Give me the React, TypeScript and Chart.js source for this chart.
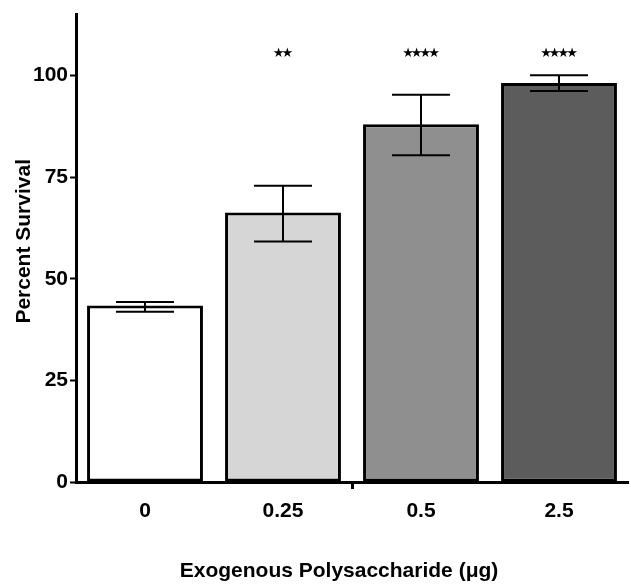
import React, { useEffect, useRef } from "react";
import { Chart, registerables } from "chart.js";

Chart.register(...registerables);

const categories = ["0", "0.25", "0.5", "2.5"];
const survival = [43.4, 66.3, 88.0, 98.2];
const errLow = [41.9, 59.2, 80.4, 96.2];
const errHigh = [44.3, 72.9, 95.3, 100.1];
const sigLabels = ["", "★★", "★★★★", "★★★★"];
const barColors = ["#ffffff", "#d6d6d6", "#8f8f8f", "#5c5c5c"];
const yTickValues = [0, 25, 50, 75, 100];
const sigLevel = 105.5;
const xTitle = "Exogenous Polysaccharide (μg)";
const yTitle = "Percent Survival";

const FONT = "'Liberation Sans', Arial, Helvetica, sans-serif";

const errorBarPlugin = {
  id: "errorBars",
  afterDatasetsDraw(chart: any) {
    const { ctx, chartArea } = chart;
    const meta = chart.getDatasetMeta(0);
    const y = chart.scales.y;
    ctx.save();
    ctx.strokeStyle = "#000";
    ctx.lineWidth = 2;
    meta.data.forEach((bar: any, i: number) => {
      const x = bar.x;
      const half = bar.width / 4;
      const yl = y.getPixelForValue(errLow[i]);
      const yh = y.getPixelForValue(errHigh[i]);
      ctx.beginPath();
      ctx.moveTo(x, yl);
      ctx.lineTo(x, yh);
      ctx.moveTo(x - half, yl);
      ctx.lineTo(x + half, yl);
      ctx.moveTo(x - half, yh);
      ctx.lineTo(x + half, yh);
      ctx.stroke();
    });
    ctx.fillStyle = "#000";
    ctx.font = "bold 13px 'DejaVu Sans', sans-serif";
    try {
      (ctx as any).letterSpacing = "-3px";
    } catch (e) {}
    ctx.textAlign = "center";
    ctx.textBaseline = "middle";
    meta.data.forEach((bar: any, i: number) => {
      if (sigLabels[i]) {
        ctx.fillText(sigLabels[i], bar.x - 1.5, y.getPixelForValue(sigLevel));
      }
    });
    try {
      (ctx as any).letterSpacing = "0px";
    } catch (e) {}
    // axis titles
    ctx.font = "bold 21px " + FONT;
    ctx.textAlign = "center";
    ctx.textBaseline = "middle";
    const cx = (chartArea.left + chartArea.right) / 2 - 13;
    ctx.fillText(xTitle, cx, chart.height - 15);
    const cy = (chartArea.top + chartArea.bottom) / 2 - 7;
    ctx.translate(24, cy);
    ctx.rotate(-Math.PI / 2);
    ctx.fillText(yTitle, 0, 0);
    ctx.restore();
  },
};

export default function App() {
  const ref = useRef<HTMLCanvasElement | null>(null);
  useEffect(() => {
    if (!ref.current) return;
    const chart = new Chart(ref.current, {
      type: "bar",
      data: {
        labels: categories,
        datasets: [
          {
            data: survival,
            backgroundColor: barColors,
            borderColor: "#000",
            borderWidth: 3,
            borderSkipped: false,
            categoryPercentage: 1,
            barPercentage: 0.84,
          },
        ],
      },
      options: {
        animation: false,
        responsive: true,
        maintainAspectRatio: false,
        layout: { padding: { top: 10, right: 3, left: 0, bottom: 0 } },
        plugins: { legend: { display: false }, tooltip: { enabled: false } },
        scales: {
          x: {
            afterFit: (s: any) => {
              s.height = 104;
            },
            border: { display: true, color: "#000", width: 3 },
            grid: {
              offset: true,
              drawOnChartArea: false,
              drawTicks: true,
              tickLength: 7,
              tickWidth: 3,
              tickColor: (c: any) => (c.index === 2 ? "#000" : "rgba(0,0,0,0)"),
            },
            ticks: {
              color: "#000",
              padding: 10,
              font: { family: FONT, size: 21, weight: "bold" },
            },
            title: { display: false },
          },
          y: {
            min: 0,
            max: 115,
            afterFit: (s: any) => {
              s.width = 76;
            },
            afterBuildTicks: (s: any) => {
              s.ticks = yTickValues.map((v) => ({ value: v }));
            },
            border: { display: true, color: "#000", width: 3 },
            grid: {
              drawOnChartArea: false,
              drawTicks: true,
              tickLength: 6,
              tickWidth: 2,
              tickColor: "#000",
            },
            ticks: {
              color: "#000",
              padding: 2,
              font: { family: FONT, size: 21, weight: "bold" },
            },
            title: { display: false },
          },
        },
      },
      plugins: [errorBarPlugin],
    });
    return () => chart.destroy();
  }, []);
  return (
    <div style={{ position: "fixed", left: 0, top: 0, width: 631, height: 586, background: "#fff" }}>
      <canvas ref={ref} />
    </div>
  );
}
